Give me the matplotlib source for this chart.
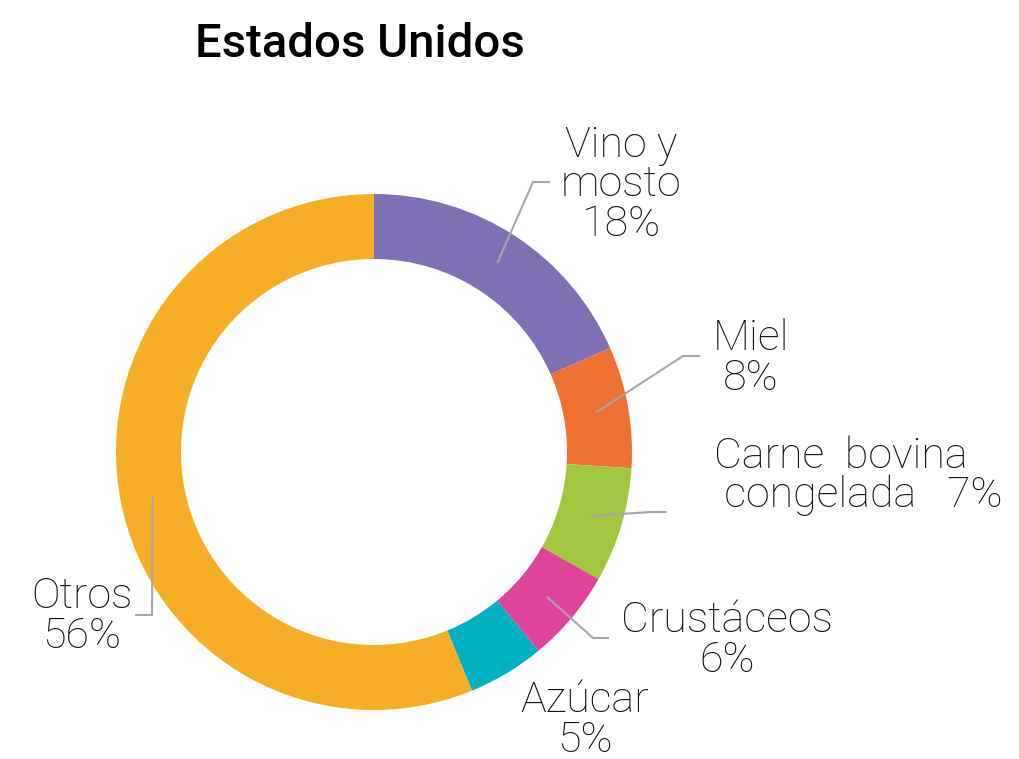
import matplotlib.pyplot as plt
import numpy as np

categories = ['Vino y\nmosto', 'Miel', 'Carne  bovina\n congelada', 'Crustáceos', 'Azúcar', 'Otros']
shares = [18.4, 7.6, 7.2, 5.8, 4.8, 56.2]
pct_labels = ['18%', '8%', '7%', '6%', '5%', '56%']
pct_sep = ['\n', '\n', '   ', '\n', '\n', '\n']
colors = ['#7F6FB3', '#EE7133', '#A3C640', '#E0449A', '#00B1C1', '#F6AE27']

W, H = 1020, 759
cx, cy = 374, 452
R = 258
ring = 65

# label layout: (x, first baseline, ha), elbow point, end of leader
label_pos = [(621, 157, 'center'), (751, 350, 'center'), (714, 468, 'left'),
             (727, 632, 'center'), (585, 712, 'center'), (82, 608, 'center')]
leaders = [((533, 182), (550, 182)), ((683, 356), (700, 356)), ((650, 512), (667, 512)),
           ((593, 638), (609, 638)), None, ((152, 615), (135, 615))]

plt.rcParams['font.family'] = ['Roboto', 'DejaVu Sans']

fig = plt.figure(figsize=(W / 100, H / 100), dpi=100)
ax = fig.add_axes([0, 0, 1, 1])

# y axis is flipped below, so counterclock=True runs clockwise on screen
ax.pie(shares, colors=colors, startangle=-90, counterclock=True,
       center=(cx, cy), radius=R, frame=True,
       wedgeprops=dict(width=ring, edgecolor='none', linewidth=0))
ax.set_xlim(0, W)
ax.set_ylim(H, 0)
ax.set_aspect('equal')
ax.axis('off')

total = float(sum(shares))
start = 0.0
for i, (cat, v) in enumerate(zip(categories, shares)):
    mid = (start + v / 2) / total * 2 * np.pi
    start += v
    rm = R - ring / 2
    p0 = (cx + rm * np.sin(mid), cy - rm * np.cos(mid))
    if leaders[i] is not None:
        (ex, ey), (tx, ty) = leaders[i]
        ax.plot([p0[0], ex, tx], [p0[1], ey, ty], color='#A6A6A6', lw=1.5,
                solid_capstyle='butt')
    x, y, ha = label_pos[i]
    lines = (cat + pct_sep[i] + pct_labels[i]).split('\n')
    for k, line in enumerate(lines):
        ax.text(x, y + k * 39.5, line, ha=ha, va='baseline', fontsize=31,
                fontweight='light', color='#111111')

ax.text(195, 57, 'Estados Unidos', ha='left', va='baseline', fontsize=34,
        fontweight='medium', color='black')

fig.savefig('out.png', dpi=100)
